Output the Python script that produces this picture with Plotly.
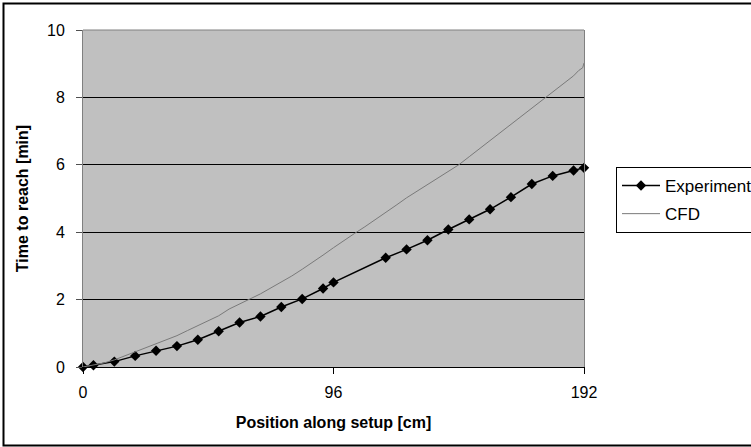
import plotly.graph_objects as go

# Measured arrival times along the setup
exp_pos = [0, 4, 12, 20, 28, 36, 44, 52, 60, 68, 76, 84, 92, 96,
           116, 124, 132, 140, 148, 156, 164, 172, 180, 188, 192]
exp_time = [0, 0.05, 0.16, 0.33, 0.48, 0.62, 0.81, 1.06, 1.32, 1.50, 1.78, 2.02, 2.33, 2.51,
            3.24, 3.49, 3.76, 4.08, 4.38, 4.68, 5.04, 5.43, 5.67, 5.83, 5.91]

# Simulated arrival times
cfd_pos = [0, 4, 8, 12, 16, 20, 24, 28, 32, 36, 40, 44, 48, 52, 56, 60, 64, 68, 72, 76,
           80, 84, 88, 92, 96, 100, 104, 108, 112, 116, 120, 124, 128, 132, 136, 140,
           144, 148, 152, 156, 160, 164, 168, 172, 176, 180, 184, 188, 190, 191.5, 192]
cfd_time = [0, 0.05, 0.12, 0.21, 0.33, 0.46, 0.58, 0.68, 0.80, 0.93, 1.08, 1.22, 1.36, 1.52,
            1.72, 1.88, 2.02, 2.17, 2.34, 2.51, 2.70, 2.90, 3.10, 3.32, 3.54, 3.76, 3.96,
            4.16, 4.37, 4.57, 4.80, 5.02, 5.22, 5.42, 5.62, 5.80, 6.00, 6.24, 6.48, 6.72,
            6.96, 7.20, 7.44, 7.68, 7.92, 8.16, 8.40, 8.64, 8.80, 8.88, 9.02]

x_ticks = [0, 96, 192]
y_ticks = [0, 2, 4, 6, 8, 10]

W, H = 751, 447
L, R, T, B = 83, 167, 30, 80
pw, ph = W - L - R, H - T - B

FONT = "Liberation Sans, Arial, sans-serif"

fig = go.Figure()
fig.add_trace(go.Scatter(
    x=exp_pos, y=exp_time, mode="lines+markers", name="Experiment",
    legendgroup="exp", cliponaxis=False,
    line=dict(color="black", width=1.5),
    marker=dict(symbol="diamond", size=8, color="black"),
))
fig.add_trace(go.Scatter(
    x=cfd_pos, y=cfd_time, mode="lines", name="CFD",
    legendgroup="cfd",
    line=dict(color="#7a7a7a", width=1),
))


def px_x(p):
    return (p - L) / pw


def px_y(p):
    return (H - B - p) / ph


fig.update_layout(
    width=W, height=H,
    margin=dict(l=L, r=R, t=T, b=B, autoexpand=False),
    paper_bgcolor="white",
    plot_bgcolor="#c0c0c0",
    font=dict(family=FONT, size=16, color="black"),
    showlegend=True,
    legend=dict(
        x=px_x(616), y=px_y(167), xanchor="left", yanchor="top",
        bordercolor="black", borderwidth=1, bgcolor="white",
        font=dict(family=FONT, size=17),
        tracegroupgap=3, itemwidth=38,
    ),
    xaxis=dict(
        range=[0, 192], tickvals=x_ticks, ticks="outside", ticklen=6,
        tickcolor="black", showgrid=False, zeroline=False,
        showline=True, linecolor="black", linewidth=1,
        ticklabelstandoff=5,
        title=dict(text="<b>Position along setup [cm]</b>", standoff=16,
                   font=dict(size=16)),
    ),
    yaxis=dict(
        range=[0, 10], tickvals=y_ticks, ticks="outside", ticklen=6,
        tickcolor="#505050", showgrid=True, gridcolor="black", gridwidth=1,
        zeroline=False, showline=True, linecolor="#808080", linewidth=1,
        mirror=True, ticklabelstandoff=8,
        title=dict(text="<b>Time to reach [min]</b>", standoff=14,
                   font=dict(size=16)),
    ),
    shapes=[
        # grey top edge of the plotting area
        dict(type="line", xref="paper", yref="paper", x0=0, x1=1, y0=1, y1=1,
             line=dict(color="#808080", width=1), layer="above"),
        # outer chart frame
        dict(type="rect", xref="paper", yref="paper",
             x0=px_x(3.5), x1=px_x(760), y0=px_y(445.5), y1=px_y(3.5),
             line=dict(color="black", width=2), fillcolor="rgba(0,0,0,0)",
             layer="above"),
    ],
)

fig.write_html("out.html")
